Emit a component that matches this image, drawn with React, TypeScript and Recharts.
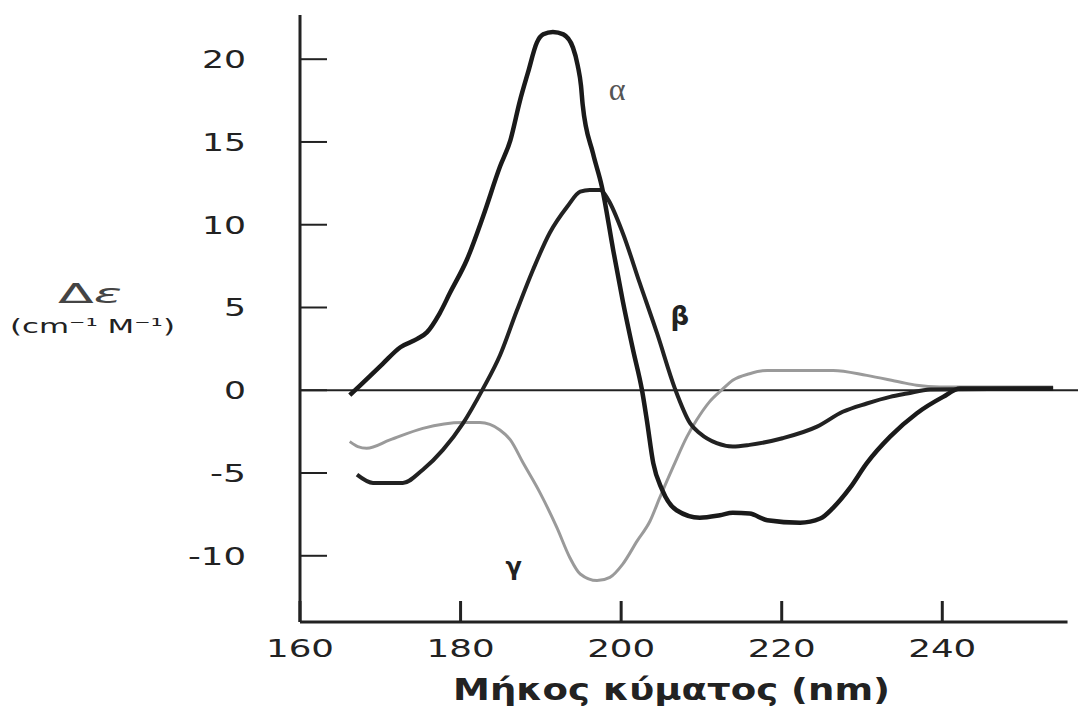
import { LineChart, Line, XAxis, YAxis, ReferenceLine, ReferenceDot } from "recharts";

// wavelength (nm) and delta-epsilon
const ALPHA_NM = [166.2, 167.5, 170.3, 172.5, 174.6, 175.8, 177.4, 178.7, 180.8, 182.8, 184.9, 186.2, 187.4, 188.4, 189.5, 190.3, 191.5, 192.8, 194.0, 194.6, 195.0, 195.2, 196.5, 197.6, 199.0, 200.2, 201.5, 202.6, 203.2, 204.0, 205.1, 206.9, 209.8, 212.3, 213.9, 216.0, 218.2, 222.3, 224.8, 226.4, 228.5, 230.6, 233.5, 236.8, 240.1, 242.2, 253.8];
const ALPHA_DE = [-0.3, 0.3, 1.6, 2.6, 3.1, 3.5, 4.65, 5.9, 7.9, 10.5, 13.5, 15.1, 17.5, 19.2, 21.0, 21.5, 21.65, 21.5, 20.7, 19.6, 18.4, 17.3, 14.3, 12.3, 8.5, 5.4, 2.4, 0, -1.8, -4.4, -6.0, -7.25, -7.7, -7.55, -7.4, -7.45, -7.85, -8.0, -7.75, -7.1, -5.9, -4.4, -2.8, -1.4, -0.4, 0.1, 0.1];

const BETA_NM = [167.1, 169.1, 172.8, 175.3, 177.8, 180.3, 182.8, 184.9, 187.0, 189.0, 191.1, 193.3, 194.9, 196.1, 197.4, 198.4, 200.2, 202.3, 204.5, 206.7, 208.6, 209.8, 211.9, 213.9, 216.0, 220.1, 224.4, 227.6, 230.6, 233.5, 235.6, 238.5, 253.8];
const BETA_DE = [-5.1, -5.6, -5.6, -4.8, -3.6, -2.0, 0.1, 2.1, 4.8, 7.25, 9.5, 11.1, 12.0, 12.1, 12.1, 11.5, 9.5, 6.5, 3.4, 0.1, -2.0, -2.6, -3.2, -3.4, -3.3, -2.9, -2.2, -1.3, -0.8, -0.4, -0.2, 0.05, 0.1];

const GAMMA_NM = [166.2, 167.2, 168.3, 171.2, 175.3, 180.3, 182.4, 184.9, 186.2, 187.8, 189.9, 192.0, 193.6, 194.9, 197.0, 198.6, 200.2, 202.0, 203.6, 204.8, 206.5, 208.2, 209.4, 211.0, 212.6, 213.9, 216.0, 218.2, 222.3, 226.4, 230.6, 234.7, 236.8, 239.7, 253.8];
const GAMMA_DE = [-3.1, -3.4, -3.5, -3.0, -2.3, -1.95, -1.95, -2.4, -3.0, -4.4, -6.2, -8.3, -10.1, -11.1, -11.5, -11.3, -10.5, -9.1, -7.9, -6.5, -4.6, -2.8, -1.8, -0.7, 0.05, 0.6, 1.0, 1.2, 1.2, 1.2, 0.9, 0.5, 0.3, 0.2, 0.2];

const X_TICKS = [160, 180, 200, 220, 240];
const Y_TICKS = [-10, -5, 0, 5, 10, 15, 20];

const toPoints = (xs: number[], ys: number[]) => xs.map((nm, i) => ({ nm, de: ys[i] }));

const alphaData = toPoints(ALPHA_NM, ALPHA_DE);
const betaData = toPoints(BETA_NM, BETA_DE);
const gammaData = toPoints(GAMMA_NM, GAMMA_DE);

const FONT = "'DejaVu Sans', Verdana, sans-serif";
const INK = "#222";
const PLOT_LEFT = 292;
const PLOT_BOTTOM = 614;

const labelWidth = (v: number) => String(Math.abs(v)).length * 22 + (v < 0 ? 14 : 0);

const XTick = ({ x, payload }: any) => (
  <g>
    <line x1={x} x2={x} y1={PLOT_BOTTOM} y2={PLOT_BOTTOM - 21} stroke={INK} strokeWidth={3} />
    <text
      x={x - 34}
      y={PLOT_BOTTOM + 35}
      fontFamily={FONT}
      fontSize={24}
      fill={INK}
      textLength={68}
      lengthAdjust="spacingAndGlyphs"
    >
      {payload.value}
    </text>
  </g>
);

const YTick = ({ y, payload }: any) => {
  const w = labelWidth(payload.value);
  return (
    <g>
      <line x1={PLOT_LEFT} x2={PLOT_LEFT + 27} y1={y} y2={y} stroke={INK} strokeWidth={2} />
      <text
        x={238 - w}
        y={y + 9}
        fontFamily={FONT}
        fontSize={24}
        fill={INK}
        textLength={w}
        lengthAdjust="spacingAndGlyphs"
      >
        {payload.value}
      </text>
    </g>
  );
};

const seriesLabel = (text: string, style: any) => (p: any) => (
  <text x={p.cx} y={p.cy} textAnchor="middle" dominantBaseline="central" {...style}>
    {text}
  </text>
);

export default function App() {
  return (
    <div style={{ width: 1078, height: 700, background: "#fff" }}>
      <LineChart width={1078} height={700} data={alphaData} margin={{ top: 7, right: 0, bottom: 0, left: 0 }}>
        <XAxis
          dataKey="nm"
          type="number"
          domain={[160, 257.9]}
          ticks={X_TICKS}
          allowDataOverflow
          axisLine={false}
          tickLine={false}
          tickSize={0}
          height={86}
          tick={<XTick />}
          label={{
            content: () => (
              <text
                x={445}
                y={692}
                fontFamily={FONT}
                fontWeight="bold"
                fontSize={30}
                fill={INK}
                textLength={437}
                lengthAdjust="spacingAndGlyphs"
              >
                Μήκος κύματος (nm)
              </text>
            ),
          }}
        />
        <YAxis
          dataKey="de"
          type="number"
          domain={[-14, 22.67]}
          ticks={Y_TICKS}
          allowDataOverflow
          width={292}
          axisLine={{ stroke: INK, strokeWidth: 3 }}
          tickLine={false}
          tickSize={0}
          tick={<YTick />}
          label={{
            content: () => (
              <g fontFamily={FONT} fill={INK}>
                <text x={50} y={295} fontSize={26} textLength={64} lengthAdjust="spacingAndGlyphs" fill="#444">
                  Δ<tspan fontStyle="italic">ε</tspan>
                </text>
                <text x={2} y={325} fontSize={20} textLength={165} lengthAdjust="spacingAndGlyphs">
                  (cm⁻¹ M⁻¹)
                </text>
              </g>
            ),
          }}
        />
        <ReferenceLine y={0} stroke={INK} strokeWidth={2} />
        <ReferenceLine
          segment={[
            { x: 160, y: -14 },
            { x: 255.6, y: -14 },
          ]}
          stroke={INK}
          strokeWidth={3}
          ifOverflow="visible"
        />
        <Line
          data={gammaData}
          dataKey="de"
          type="monotone"
          stroke="#9a9a9a"
          strokeWidth={3}
          dot={false}
          activeDot={false}
          isAnimationActive={false}
        />
        <Line
          data={betaData}
          dataKey="de"
          type="monotone"
          stroke={INK}
          strokeWidth={4}
          dot={false}
          activeDot={false}
          isAnimationActive={false}
        />
        <Line
          data={alphaData}
          dataKey="de"
          type="monotone"
          stroke="#1a1a1a"
          strokeWidth={4.5}
          dot={false}
          activeDot={false}
          isAnimationActive={false}
        />
        <ReferenceDot
          x={199.5}
          y={18.2}
          r={0}
          shape={seriesLabel("α", { fontFamily: "'Liberation Serif', serif", fontSize: 32, fill: "#555" })}
        />
        <ReferenceDot
          x={207.3}
          y={4.5}
          r={0}
          shape={seriesLabel("β", { fontFamily: FONT, fontWeight: "bold", fontSize: 26, fill: INK })}
        />
        <ReferenceDot
          x={186.6}
          y={-10.7}
          r={0}
          shape={seriesLabel("γ", { fontFamily: FONT, fontWeight: "bold", fontSize: 24, fill: INK })}
        />
      </LineChart>
    </div>
  );
}
